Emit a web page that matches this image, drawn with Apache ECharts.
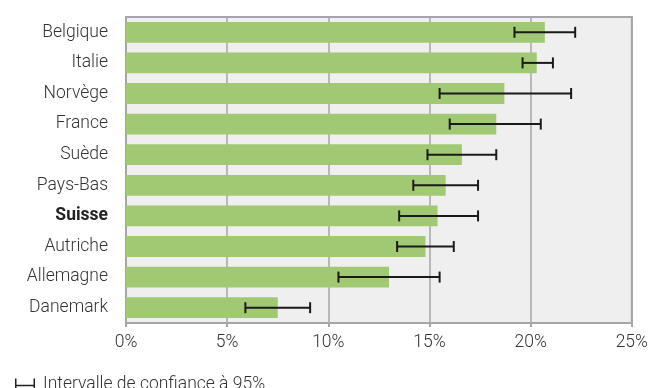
<!DOCTYPE html>
<html>
<head>
<meta charset="utf-8">
<script src="https://cdn.jsdelivr.net/npm/echarts@6/dist/echarts.min.js"></script>
<style>
  html, body { margin: 0; padding: 0; background: #fff; }
  #chart { width: 651px; height: 388px; }
</style>
</head>
<body>
<div id="chart"></div>
<script>
// Pays, part en % et intervalle de confiance à 95 %
const countries = ['Belgique', 'Italie', 'Norvège', 'France', 'Suède', 'Pays-Bas', 'Suisse', 'Autriche', 'Allemagne', 'Danemark'];
const shares    = [20.7, 20.3, 18.7, 18.3, 16.6, 15.8, 15.4, 14.8, 13.0, 7.5];
const ciLow     = [19.2, 19.6, 15.5, 16.0, 14.9, 14.2, 13.5, 13.4, 10.5, 5.9];
const ciHigh    = [22.2, 21.1, 22.0, 20.5, 18.3, 17.4, 17.4, 16.2, 15.5, 9.1];
const xTicks    = [0, 5, 10, 15, 20, 25];
const highlight = 'Suisse';
const legendLabel = 'Intervalle de confiance à 95%';

const FONT = 'Roboto, "Noto Sans", sans-serif';
const FS = 17.5;
const TEXT = '#333';
const GRID_GRAY = '#a6a6a6';

const errorData = countries.map((c, i) => [i, ciLow[i], ciHigh[i]]);

const chart = echarts.init(document.getElementById('chart'), null, { renderer: 'canvas' });

chart.setOption({
  animation: false,
  grid: {
    left: 126, right: 16, top: 17, bottom: 65,
    show: true,
    backgroundColor: '#efefef',
    borderColor: GRID_GRAY,
    borderWidth: 2
  },
  legend: {
    left: 10, top: 371,
    itemWidth: 20, itemHeight: 13, itemGap: 10,
    textStyle: { fontFamily: FONT, fontSize: FS, fontWeight: 300, color: TEXT, padding: [0, 0, 0, 3] },
    data: [{
      name: legendLabel,
      icon: 'path://M0,0 L1.5,0 L1.5,6.25 L18.5,6.25 L18.5,0 L20,0 L20,13 L18.5,13 L18.5,7.75 L1.5,7.75 L1.5,13 L0,13 Z',
      itemStyle: { color: '#222' }
    }]
  },
  xAxis: {
    type: 'value',
    min: xTicks[0], max: xTicks[xTicks.length - 1], interval: 5,
    axisLine: { show: true, lineStyle: { color: GRID_GRAY, width: 2 } },
    axisTick: { show: true, length: 4, lineStyle: { color: GRID_GRAY, width: 2 } },
    splitLine: { show: true, lineStyle: { color: GRID_GRAY, width: 1.5 } },
    axisLabel: {
      formatter: v => v + '%',
      fontFamily: FONT, fontSize: FS, fontWeight: 300, color: TEXT, margin: 11
    }
  },
  yAxis: {
    type: 'category',
    inverse: true,
    data: countries,
    axisLine: { show: true, lineStyle: { color: GRID_GRAY, width: 2 } },
    axisTick: { show: false },
    axisLabel: {
      margin: 18,
      fontFamily: FONT, fontSize: FS, fontWeight: 300, color: TEXT,
      formatter: v => v === highlight ? '{b|' + v + '}' : v,
      rich: { b: { fontFamily: FONT, fontSize: FS, fontWeight: 'bold', color: '#222' } }
    }
  },
  series: [
    {
      name: 'Part',
      type: 'bar',
      data: shares,
      barCategoryGap: '32%',
      itemStyle: { color: '#a1c872' }
    },
    {
      name: legendLabel,
      type: 'custom',
      data: errorData,
      encode: { y: 0, x: [1, 2] },
      z: 5,
      renderItem: (params, api) => {
        const cat = api.value(0);
        const lo = api.coord([api.value(1), cat]);
        const hi = api.coord([api.value(2), cat]);
        const half = 5.5;
        const style = { stroke: '#1a1a1a', lineWidth: 2, fill: null };
        return {
          type: 'group',
          children: [
            { type: 'line', shape: { x1: lo[0], y1: lo[1], x2: hi[0], y2: hi[1] }, style },
            { type: 'line', shape: { x1: lo[0], y1: lo[1] - half, x2: lo[0], y2: lo[1] + half }, style },
            { type: 'line', shape: { x1: hi[0], y1: hi[1] - half, x2: hi[0], y2: hi[1] + half }, style }
          ]
        };
      }
    }
  ]
});
</script>
</body>
</html>
